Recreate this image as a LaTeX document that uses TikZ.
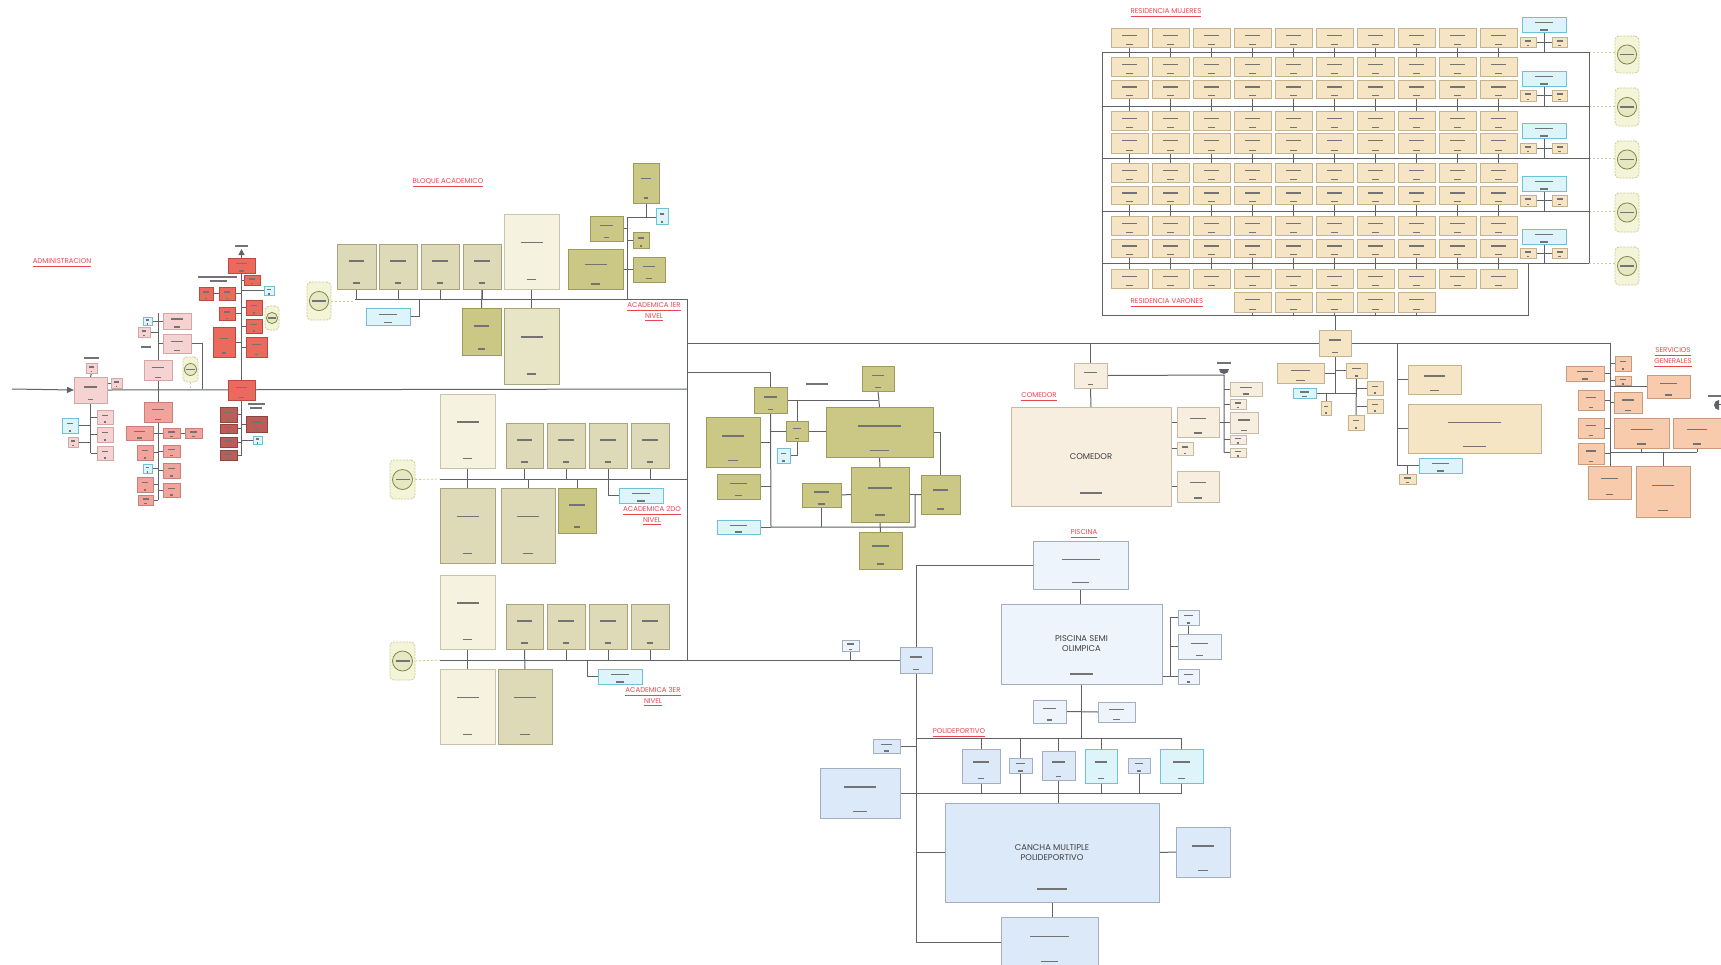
\documentclass[tikz,border=0pt]{standalone}
\usepackage{fontspec}
\setmainfont{Poppins}
\usetikzlibrary{calc,arrows.meta}
\pgfdeclarelayer{bg}
\pgfsetlayers{bg,main}
\definecolor{cAdm}{HTML}{F5D3D3}\definecolor{cAdmD}{HTML}{D6A6A6}
\definecolor{cSal}{HTML}{F2A39B}\definecolor{cSalD}{HTML}{C98078}
\definecolor{cRed}{HTML}{EA6A5E}\definecolor{cRedD}{HTML}{B84A40}
\definecolor{cDred}{HTML}{BC5E57}\definecolor{cDredD}{HTML}{8E4540}
\definecolor{cKha}{HTML}{DEDAB7}\definecolor{cKhaD}{HTML}{A9A47E}
\definecolor{cKhb}{HTML}{E8E5C6}
\definecolor{cCre}{HTML}{F5F3E0}\definecolor{cCreD}{HTML}{C9C5A8}
\definecolor{cOli}{HTML}{CBC784}\definecolor{cOliD}{HTML}{9E9A5E}
\definecolor{cCya}{HTML}{DDF5FA}\definecolor{cCyaD}{HTML}{6CC3D8}
\definecolor{cRes}{HTML}{F6E5C5}\definecolor{cResD}{HTML}{C6B28C}
\definecolor{cCom}{HTML}{F7EEDF}\definecolor{cComD}{HTML}{C8BBA5}
\definecolor{cPoolA}{HTML}{EEF4FC}\definecolor{cPoolB}{HTML}{DCE9F9}
\definecolor{cPoolD}{HTML}{A3AFBF}
\definecolor{cSer}{HTML}{F8CBAC}\definecolor{cSerD}{HTML}{C99A7C}
\definecolor{cTag}{HTML}{F3F4D8}\definecolor{cTagD}{HTML}{C9CD95}
\definecolor{cTagC}{HTML}{7E8A4A}
\definecolor{cLine}{HTML}{5F6368}
\definecolor{cLab}{HTML}{E8464F}
\tikzset{
 box/.style={inner sep=0pt,outer sep=0pt,line width=0.4pt},
 sAdm/.style={box,fill=cAdm,draw=cAdmD},
 sSal/.style={box,fill=cSal,draw=cSalD},
 sRed/.style={box,fill=cRed,draw=cRedD},
 sDred/.style={box,fill=cDred,draw=cDredD},
 sKha/.style={box,fill=cKha,draw=cKhaD},
 sKhb/.style={box,fill=cKhb,draw=cKhaD},
 sCre/.style={box,fill=cCre,draw=cCreD},
 sOli/.style={box,fill=cOli,draw=cOliD},
 sCya/.style={box,fill=cCya,draw=cCyaD},
 sRes/.style={box,fill=cRes,draw=cResD},
 sCom/.style={box,fill=cCom,draw=cComD},
 sPoolA/.style={box,fill=cPoolA,draw=cPoolD},
 sPoolB/.style={box,fill=cPoolB,draw=cPoolD},
 sSer/.style={box,fill=cSer,draw=cSerD},
 sTag/.style={box,fill=cTag,draw=cTagD,rounded corners=2pt,dash pattern=on 1pt off 0.6pt},
 tagc/.style={draw=cTagC,line width=0.4pt,fill=cTag!70!cTagD},
 ln/.style={draw=cLine,line width=0.5pt},
 dln/.style={draw=cTagD,line width=0.4pt,dash pattern=on 1.2pt off 0.8pt},
 bar/.style={draw=black!55,line width=0.7pt},
 lab/.style={text=cLab,font=\fontsize{3.5}{4.4}\selectfont,align=center,inner sep=0pt},
 big/.style={text=black!75,font=\fontsize{4.2}{5}\selectfont,align=center},
}
\newcommand\mybox[6]{%
 \node[#6,minimum width={((#4)-(#2))*0.5pt},minimum height={((#5)-(#3))*0.5pt}] (#1) at ({((#2)+(#4))/2},{((#3)+(#5))/2}) {};%
 \pgfmathsetmacro\mbcx{((#2)+(#4))/2}%
 \pgfmathsetmacro\mbcy{((#3)+(#5))/2-((#5)-(#3))*0.12}%
 \pgfmathsetmacro\mbw{((#4)-(#2))*0.2}%
 \pgfmathsetmacro\mbby{(#5)-((#5)-(#3))*0.13}%
 \pgfmathsetmacro\mbv{((#4)-(#2))*0.09}%
 \draw[bar] ({\mbcx-\mbw},{\mbcy}) -- ({\mbcx+\mbw},{\mbcy});%
 \draw[bar] ({\mbcx-\mbv},{\mbby}) -- ({\mbcx+\mbv},{\mbby});%
}
\newcommand\mytxtbox[7]{%
 \node[#6,big,inner sep=0pt,outer sep=0pt,minimum width={((#4)-(#2))*0.5pt},minimum height={((#5)-(#3))*0.5pt}] (#1) at ({((#2)+(#4))/2},{((#3)+(#5))/2}) {#7};%
 \pgfmathsetmacro\mbcx{((#2)+(#4))/2}%
 \pgfmathsetmacro\mbby{(#5)-((#5)-(#3))*0.13}%
 \pgfmathsetmacro\mbv{((#4)-(#2))*0.07}%
 \draw[bar,line width=1pt] ({\mbcx-\mbv},{\mbby}) -- ({\mbcx+\mbv},{\mbby});%
}
\newcommand\mytag[5]{%
 \node[sTag,minimum width={((#4)-(#2))*0.5pt},minimum height={((#5)-(#3))*0.5pt}] (#1) at ({((#2)+(#4))/2},{((#3)+(#5))/2}) {};%
 \pgfmathsetmacro\mtr{((#4)-(#2))*0.2}%
 \pgfmathsetmacro\mtb{\mtr*0.7}%
 \draw[tagc] (#1.center) circle[radius=\mtr pt];%
 \draw[bar,line width=0.6pt] ([xshift=-\mtb pt]#1.center) -- ([xshift=\mtb pt]#1.center);%
}
\begin{document}
\begin{tikzpicture}[x=0.5pt,y=-0.5pt]
\useasboundingbox (0,0) rectangle (1721,965);
\begin{pgfonlayer}{bg}
\fill[white] (0,0) rectangle (1721,965);
\end{pgfonlayer}

%% ---------------- labels
\node[lab] (lAdm) at (62,263) {\underline{ADMINISTRACION}};
\node[lab] (lBlo) at (448,183) {\underline{BLOQUE ACADEMICO}};
\node[lab] (lA1) at (654,312) {\underline{ACADEMICA 1ER}\\\underline{NIVEL}};
\node[lab] (lA2) at (652,516) {\underline{ACADEMICA 2DO}\\\underline{NIVEL}};
\node[lab] (lA3) at (653,697) {\underline{ACADEMICA 3ER}\\\underline{NIVEL}};
\node[lab] (lCom) at (1039,397) {\underline{COMEDOR}};
\node[lab] (lRM) at (1166,13) {\underline{RESIDENCIA MUJERES}};
\node[lab] (lRV) at (1167,303) {\underline{RESIDENCIA VARONES}};
\node[lab] (lSer) at (1673,358) {\underline{SERVICIOS}\\\underline{GENERALES}};
\node[lab] (lPis) at (1084,534) {\underline{PISCINA}};
\node[lab] (lPol) at (959,733) {\underline{POLIDEPORTIVO}};

%% ---------------- coordinates
\coordinate (mainW) at (12,389);
\coordinate (mainE) at (687,389);
\coordinate (vTop) at (687,299);
\coordinate (topL) at (687,343);
\coordinate (topR) at (1610,343);
\coordinate (b1W) at (355,299);
\coordinate (b1V) at (627,217);
\coordinate (b2W) at (440,479);
\coordinate (b2E) at (687,479);
\coordinate (b3W) at (440,660);
\coordinate (vBot) at (687,660);
\coordinate (jA) at (202,389);
\coordinate (jB1) at (419,299);
\coordinate (oL) at (687,372);
\coordinate (oBot) at (771,527);
\coordinate (oR) at (915,527);
\coordinate (ant) at (1224,375);
\coordinate (rvB) at (1102,315);
\coordinate (rvBE) at (1528,315);
\coordinate (svT) at (1397,343);
\coordinate (pTr) at (916,565);
\coordinate (pTrB) at (916,942);
\coordinate (polT) at (916,738);
\coordinate (polB) at (900,793);

%% ---------------- ADMINISTRACION
\mybox{a1}{74}{377}{107}{403}{sAdm}
\mybox{a1t}{86}{363}{97}{373}{sAdm}
\draw[bar] (84,358) -- (99,358);
\mybox{a1r}{111}{378}{122}{388}{sAdm}
\mybox{a1b1}{97}{410}{113}{424}{sAdm}
\mybox{a1b2}{97}{427}{113}{442}{sAdm}
\mybox{a1b3}{97}{446}{113}{460}{sAdm}
\mybox{a1c}{62}{418}{78}{433}{sCya}
\mybox{a1p}{68}{437}{78}{447}{sAdm}

\mybox{aA}{144}{360}{172}{380}{sAdm}
\mybox{aA1}{163}{313}{191}{329}{sAdm}
\mybox{aA2}{163}{334}{191}{353}{sAdm}
\mybox{aAc}{143}{317}{152}{325}{sCya}
\mybox{aAp}{138}{327}{150}{337}{sAdm}
\draw[bar] (141,347) -- (151,347);
\mytag{tA}{183}{357}{198}{382}
\mybox{aB}{144}{402}{172}{422}{sSal}
\mybox{aB1}{126}{426}{153}{440}{sSal}
\mybox{aB2}{163}{428}{180}{438}{sSal}
\mybox{aB3}{185}{428}{202}{438}{sSal}
\mybox{aB4}{137}{445}{153}{460}{sSal}
\mybox{aB5}{163}{445}{180}{457}{sSal}
\mybox{aBc}{143}{464}{152}{473}{sCya}
\mybox{aB6}{163}{463}{180}{478}{sSal}
\mybox{aB7}{137}{477}{153}{492}{sSal}
\mybox{aB8}{163}{483}{180}{497}{sSal}
\mybox{aB9}{138}{495}{153}{505}{sSal}

\mybox{aRt}{228}{258}{255}{273}{sRed}
\coordinate (aRup) at (241.5,249);
\draw[bar] (235,246) -- (248,246);
\draw[bar] (198,277) -- (237,277);
\draw[bar] (210,281) -- (227,281);
\mybox{aR1}{244}{275}{260}{285}{sRed}
\mybox{aRc}{264}{286}{274}{295}{sCya}
\mybox{aR2}{199}{287}{213}{300}{sRed}
\mybox{aR3}{219}{287}{235}{300}{sRed}
\mybox{aR4}{219}{307}{235}{320}{sRed}
\mybox{aR5}{246}{300}{262}{315}{sRed}
\mybox{aR6}{213}{327}{235}{357}{sRed}
\mybox{aR7}{246}{319}{262}{333}{sRed}
\mybox{aR8}{246}{337}{267}{357}{sRed}
\mytag{tR}{265}{306}{279}{330}
\mybox{aR}{228}{380}{255}{400}{sRed}
\mybox{aD1}{220}{407}{237}{422}{sDred}
\mybox{aD2}{220}{424}{237}{433}{sDred}
\mybox{aD3}{220}{437}{237}{447}{sDred}
\mybox{aD4}{220}{450}{237}{460}{sDred}
\draw[bar] (248,404) -- (265,404);
\draw[bar] (250,408) -- (262,408);
\mybox{aD5}{246}{416}{267}{432}{sDred}
\mybox{aDc}{253}{436}{262}{444}{sCya}

%% ---------------- BLOQUE ACADEMICO
\mytag{tB1}{307}{282}{331}{320}
\mybox{bK1}{337}{244}{376}{289}{sKha}
\mybox{bK2}{379}{244}{417}{289}{sKha}
\mybox{bK3}{421}{244}{459}{289}{sKha}
\mybox{bK4}{463}{244}{501}{289}{sKha}
\mybox{bC1}{504}{214}{559}{289}{sCre}
\mybox{bO1}{462}{308}{501}{355}{sOli}
\mybox{bC2}{504}{308}{559}{384}{sKhb}
\mybox{bCy}{366}{308}{410}{325}{sCya}
\mybox{bT}{633}{163}{659}{203}{sOli}
\mybox{bTc}{656}{208}{668}{224}{sCya}
\mybox{bL1}{590}{216}{623}{241}{sOli}
\mybox{bL2}{568}{249}{623}{289}{sOli}
\mybox{bR1}{633}{232}{649}{248}{sOli}
\mybox{bR2}{633}{257}{665}{282}{sOli}

%% 2do nivel
\mytag{tB2}{390}{460}{415}{499}
\mybox{c1}{440}{394}{495}{468}{sCre}
\mybox{c2}{506}{423}{543}{468}{sKha}
\mybox{c3}{547}{423}{585}{468}{sKha}
\mybox{c4}{589}{423}{627}{468}{sKha}
\mybox{c5}{631}{423}{669}{468}{sKha}
\mybox{c6}{440}{488}{495}{563}{sKha}
\mybox{c7}{501}{488}{555}{563}{sKha}
\mybox{c8}{558}{488}{596}{533}{sOli}
\mybox{cCy}{619}{488}{663}{503}{sCya}

%% 3er nivel
\mytag{tB3}{390}{642}{415}{680}
\mybox{d1}{440}{575}{495}{649}{sCre}
\mybox{d2}{506}{604}{543}{649}{sKha}
\mybox{d3}{547}{604}{585}{649}{sKha}
\mybox{d4}{589}{604}{627}{649}{sKha}
\mybox{d5}{631}{604}{669}{649}{sKha}
\mybox{d6}{440}{669}{495}{744}{sCre}
\mybox{d7}{498}{669}{552}{744}{sKha}
\mybox{dCy}{598}{669}{642}{684}{sCya}

%% ---------------- central olive
\mybox{o1}{754}{387}{787}{413}{sOli}
\draw[bar] (806,384) -- (828,384);
\mybox{o2}{862}{366}{894}{391}{sOli}
\mybox{o3}{706}{417}{760}{467}{sOli}
\mybox{o4}{786}{421}{808}{441}{sOli}
\mybox{oC}{777}{448}{790}{463}{sCya}
\mybox{o5}{826}{407}{933}{457}{sOli}
\mybox{o6}{717}{474}{760}{499}{sOli}
\mybox{o7}{802}{483}{841}{507}{sOli}
\mybox{o8}{851}{467}{909}{522}{sOli}
\mybox{o9}{921}{475}{960}{514}{sOli}
\mybox{o10}{859}{532}{902}{569}{sOli}
\mybox{oC2}{717}{520}{760}{534}{sCya}

%% ---------------- COMEDOR
\mybox{m0}{1074}{363}{1107}{388}{sCom}
\mytxtbox{m}{1011}{407}{1171}{506}{sCom}{COMEDOR}
\mybox{m1}{1230}{382}{1262}{396}{sCom}
\mybox{m2}{1230}{399}{1246}{409}{sCom}
\mybox{m3}{1230}{412}{1258}{433}{sCom}
\mybox{m4}{1230}{435}{1246}{444}{sCom}
\mybox{m5}{1230}{448}{1246}{457}{sCom}
\mybox{m6}{1177}{407}{1219}{437}{sCom}
\mybox{m7}{1177}{442}{1193}{455}{sCom}
\mybox{m8}{1177}{471}{1219}{502}{sCom}
\draw[bar] (1217,363) -- (1231,363);
\fill[cLine] (1219,369) arc[start angle=180,end angle=360,radius=2.5pt] -- cycle;

%% ---------------- RESIDENCIAS
\foreach \rw/\ya/\yb in {1/28/47,2/57/76,3/80/98,4/111/130,5/133/153,6/163/182,7/186/204,8/216/235,9/239/257,10/269/288}{
 \foreach \cl in {0,...,9}{
  \pgfmathsetmacro\xa{1111+41*\cl}\pgfmathsetmacro\xb{\xa+37}
  \mybox{res\rw c\cl}{\xa}{\ya}{\xb}{\yb}{sRes}
 }}
\foreach \cl in {3,...,7}{
  \pgfmathsetmacro\xa{1111+41*\cl}\pgfmathsetmacro\xb{\xa+37}
  \mybox{resx\cl}{\xa}{292}{\xb}{312}{sRes}
 }
\foreach \k/\ca/\cb/\sa/\sb in {1/17/32/37/47,2/71/86/90/101,3/123/138/143/153,4/176/191/195/206,5/229/244/248/258}{
 \mybox{rcy\k}{1522}{\ca}{1566}{\cb}{sCya}
 \mybox{rsl\k}{1520}{\sa}{1536}{\sb}{sRes}
 \mybox{rsr\k}{1552}{\sa}{1567}{\sb}{sRes}
}
\foreach \k/\ta/\tb in {1/36/73,2/88/126,3/141/178,4/193/232,5/247/285}{
 \mytag{tagR\k}{1615}{\ta}{1639}{\tb}
}
\mybox{rJ}{1319}{330}{1351}{356}{sRes}
\mybox{rj1}{1277}{363}{1324}{383}{sRes}
\mybox{rj2}{1346}{363}{1367}{378}{sRes}
\mybox{rjC}{1293}{388}{1316}{398}{sCya}
\mybox{rj3}{1321}{401}{1331}{415}{sRes}
\mybox{rj4}{1367}{381}{1383}{395}{sRes}
\mybox{rj5}{1367}{399}{1383}{413}{sRes}
\mybox{rj6}{1348}{415}{1364}{430}{sRes}

%% right cream boxes
\mybox{sv1}{1408}{365}{1461}{394}{sRes}
\mybox{sv2}{1408}{404}{1541}{453}{sRes}
\mybox{svC}{1419}{458}{1462}{473}{sCya}
\mybox{sv3}{1399}{474}{1416}{484}{sRes}

%% SERVICIOS GENERALES
\mybox{g1}{1566}{366}{1604}{381}{sSer}
\mybox{g2}{1615}{356}{1631}{371}{sSer}
\mybox{g3}{1615}{376}{1631}{385}{sSer}
\mybox{g4}{1647}{375}{1690}{398}{sSer}
\mybox{g5}{1578}{390}{1604}{410}{sSer}
\mybox{g6}{1614}{392}{1642}{413}{sSer}
\mybox{g7}{1578}{418}{1604}{438}{sSer}
\mybox{g8}{1614}{418}{1669}{448}{sSer}
\mybox{g9}{1673}{418}{1721}{448}{sSer}
\mybox{g10}{1578}{443}{1604}{464}{sSer}
\mybox{g11}{1588}{466}{1631}{499}{sSer}
\mybox{g12}{1636}{466}{1690}{517}{sSer}
\coordinate (farR) at (1721,404);
\draw[bar] (1708,396) -- (1721,396);
\fill[cLine] (1719,400) arc[start angle=90,end angle=270,radius=2.5pt] -- cycle;

%% ---------------- PISCINA / POLIDEPORTIVO
\mybox{p1}{1033}{541}{1128}{589}{sPoolA}
\mybox{pJ}{900}{647}{932}{673}{sPoolB}
\mybox{pS}{842}{640}{859}{651}{sPoolA}
\mytxtbox{p2}{1001}{604}{1162}{684}{sPoolA}{PISCINA SEMI\\OLIMPICA}
\mybox{p3}{1178}{610}{1199}{625}{sPoolA}
\mybox{p4}{1178}{634}{1221}{659}{sPoolA}
\mybox{p5}{1178}{669}{1199}{684}{sPoolA}
\mybox{p6}{1033}{700}{1066}{723}{sPoolA}
\mybox{p7}{1098}{702}{1135}{722}{sPoolA}
\mybox{q0}{873}{739}{900}{753}{sPoolB}
\mybox{q1}{962}{749}{1000}{783}{sPoolB}
\mybox{q2}{1009}{758}{1032}{773}{sPoolB}
\mybox{q3}{1042}{751}{1075}{780}{sPoolB}
\mybox{q4}{1085}{749}{1117}{783}{sCya}
\mybox{q5}{1128}{758}{1150}{773}{sPoolB}
\mybox{q6}{1160}{749}{1203}{783}{sCya}
\mybox{qL}{820}{768}{900}{818}{sPoolB}
\mytxtbox{qC}{945}{803}{1159}{902}{sPoolB}{CANCHA MULTIPLE\\POLIDEPORTIVO}
\mybox{qR}{1176}{827}{1230}{877}{sPoolB}
\mybox{qB}{1001}{917}{1098}{968}{sPoolB}

%% ================= CONNECTORS
\begin{pgfonlayer}{bg}
% admin
\draw[ln,-{Triangle[length=3.5pt,width=3pt]}] (mainW) -- (a1.west);
\draw[ln] (a1.east) -- (mainE);
\draw[ln] (a1t.south) -- (a1.north);
\draw[ln] (a1r.west) -- (a1r.west -| a1.east);
\draw[ln] (a1.south) -- (a1.south |- a1b3.west);
\foreach \n in {a1b1,a1b2,a1b3}{\draw[ln] (\n.west) -- (\n.west -| a1.south);}
\draw[ln] (a1c.east) -- (a1c.east -| a1.south);
\draw[ln] (a1p.east) -- (a1p.east -| a1.south);
\draw[ln] (aA.north) -- (aA.north |- aA1.north);
\foreach \n in {aA1,aA2}{\draw[ln] (\n.west) -- (\n.west -| aA.north);}
\foreach \n in {aAc,aAp}{\draw[ln] (\n.east) -- (\n.east -| aA.north);}
\draw[ln] (aA2.east) -| (jA);
\draw[dln] (tA.south) -- (tA.south |- jA);
\draw[ln] (aA.south) -- (aB.north);
\draw[ln] (aB.south) -- (aB.south |- aB9.east);
\foreach \n in {aB1,aB4,aBc,aB7,aB9}{\draw[ln] (\n.east) -- (\n.east -| aB.south);}
\foreach \n in {aB2,aB5,aB6,aB8}{\draw[ln] (\n.west) -- (\n.west -| aB.south);}
\draw[ln] (aB2.east) -- (aB3.west);
\draw[ln,-{Triangle[length=3pt,width=3pt]}] (aRt.north) -- (aRup);
\draw[ln] (aRt.south) -- (aR.north);
\draw[ln] (aR1.west) -- (aR1.west -| aR.north);
\draw[ln] (aRc.west) -- (aRc.west -| aR.north);
\draw[ln] (aR2.east) -- (aR3.west);
\foreach \n in {aR3,aR4,aR6}{\draw[ln] (\n.east) -- (\n.east -| aR.north);}
\foreach \n in {aR5,aR7,aR8}{\draw[ln] (\n.west) -- (\n.west -| aR.north);}
\draw[ln] (aR.south) -- (aR.south |- aD4.east);
\foreach \n in {aD1,aD2,aD3,aD4}{\draw[ln] (\n.east) -- (\n.east -| aR.south);}
\foreach \n in {aD5,aDc}{\draw[ln] (\n.west) -- (\n.west -| aR.south);}
% academic 1
\draw[dln] (tB1.east) -- (tB1.east -| b1W);
\draw[ln] (b1W) -- (vTop) -- (vBot);
\foreach \n in {bK1,bK2,bK3,bK4}{\draw[ln] (\n.south) -- (\n.south |- b1W);}
\draw[ln] (bK4.south) -- (bO1.north);
\draw[ln] (bC1.south) -- (bC2.north);
\draw[ln] (bCy.east) -| (jB1);
\draw[ln] (b1W -| b1V) -- (b1V) -- (b1V -| bTc.west);
\draw[ln] (bT.south) -- (bT.south |- b1V);
\foreach \n in {bL1,bL2}{\draw[ln] (\n.east) -- (\n.east -| b1V);}
\foreach \n in {bR1,bR2}{\draw[ln] (\n.west) -- (\n.west -| b1V);}
% academic 2
\draw[dln] (tB2.east) -- (b2W);
\draw[ln] (b2W) -- (b2E);
\draw[ln] (c1.south) -- (c6.north);
\foreach \n in {c2,c3,c5}{\draw[ln] (\n.south) -- (\n.south |- b2W);}
\draw[ln] (c7.north) -- (c7.north |- b2W);
\draw[ln] (c8.north) -- (c8.north |- b2W);
\draw[ln] (c4.south) |- (cCy.west);
% academic 3
\draw[dln] (tB3.east) -- (b3W);
\draw[ln] (b3W) -- (pJ.west);
\draw[ln] (d1.south) -- (d6.north);
\draw[ln] (d2.south) -- (d7.north);
\foreach \n in {d3,d4,d5}{\draw[ln] (\n.south) -- (\n.south |- b3W);}
\draw[ln] (587,660) |- (dCy.west);
% top line
\draw[ln] (topL) -- (topR);
% central olive
\draw[ln] (oL) -| (o1.north);
\draw[ln] (o1.south) -- (oBot) -- (oR) |- (o9.west);
\draw[ln] (o3.east) -- (o3.east -| o1.south);
\draw[ln] (o6.east) -- (o6.east -| o1.south);
\draw[ln] (oC2.east) -- (oC2.east -| oBot);
\draw[ln] (o4.west) -- (o4.west -| o1.south);
\draw[ln] (o4.east) -- (o4.east -| o5.west);
\draw[ln] (o1.east) -- (o1.east -| o2.south);
\draw[ln] (o2.south) -- (o5.north);
\draw[ln] (797,400) |- (oC.east);
\draw[ln] (o5.south) -- (o8.north);
\draw[ln] (o8.south) -- (o10.north);
\draw[ln] (o7.south) -- (o7.south |- oBot);
\draw[ln] (o7.east) -- (o8.west);
\draw[ln] (o8.east) -- (o9.west);
\draw[ln] (o5.east) -| (o9.north);
% comedor
\draw[ln] (m0.north |- topL) -- (m0.north);
\draw[ln] (m0.south) -- (m.north);
\draw[ln] (m0.east) -- (ant) -- (ant |- m5.west);
\foreach \n in {m1,m2,m3,m4,m5}{\draw[ln] (\n.west) -- (\n.west -| ant);}
\draw[ln] (m6.east) -- (m6.east -| ant);
\foreach \n in {m6,m7,m8}{\draw[ln] (\n.west) -- (\n.west -| m.east);}
% residencias
\foreach \k/\yy in {1/52,2/106,3/158,4/211,5/263}{
  \draw[ln] (1102,\yy) -- (1589,\yy);
  \draw[ln] (rcy\k.south) -- (rcy\k.south |- 1102,\yy);
  \draw[ln] (rsl\k.east) -- (rsr\k.west);
  \draw[dln] (1589,\yy) -- (tagR\k.west |- 1589,\yy);
}
\draw[ln] (1589,52) -- (1589,263);
\draw[ln] (1102,52) -- (rvB) -- (rvBE) -- (1528,263);
\foreach \cl in {0,...,9}{
 \foreach \a/\b in {1/2,3/4,5/6,7/8,9/10}{\draw[ln] (res\a c\cl.south) -- (res\b c\cl.north);}
}
\foreach \cl in {3,...,7}{\draw[ln] (resx\cl.south) -- (resx\cl.south |- rvB);}
\draw[ln] (rJ.north) -- (rJ.north |- rvB);
\draw[ln] (rJ.south) -- (rJ.south |- rjC.east);
\draw[ln] (rj1.east) -- (rj1.east -| rJ.south);
\draw[ln] (rj2.west) -- (rj2.west -| rJ.south);
\draw[ln] (rjC.east) -- (rjC.east -| rj2.south);
\draw[ln] (rj3.north) -- (rj3.north |- rjC.east);
\draw[ln] (rj2.south) -- (rj6.north);
\foreach \n in {rj4,rj5}{\draw[ln] (\n.west) -- (\n.west -| rj2.south);}
% right cream
\draw[ln] (svT) -- (svT |- svC.west);
\foreach \n in {sv1,sv2,svC}{\draw[ln] (\n.west) -- (\n.west -| svT);}
\draw[ln] (sv3.north) -- (sv3.north |- svC.west);
% servicios
\draw[ln] (topR) -- (g11.north -| topR);
\foreach \n in {g1,g5,g7,g10}{\draw[ln] (\n.east) -- (\n.east -| topR);}
\foreach \n in {g2,g3,g6}{\draw[ln] (\n.west) -- (\n.west -| topR);}
\draw[ln] (g4.west) -- (g4.west -| topR);
\draw[ln] (topR |- 0,452) -- (g9.south |- 0,452);
\draw[ln] (g8.south) -- (g8.south |- 0,452);
\draw[ln] (g9.south) -- (g9.south |- 0,452);
\draw[ln] (g12.north) -- (g12.north |- 0,452);
\draw[ln] (farR) -- ++(-6,0);
% pool
\draw[ln] (pTr) -- (pTrB) -- (pTrB -| qB.west);
\draw[ln] (p1.west) -- (pTr);
\draw[ln] (pS.south) -- (pS.south |- b3W);
\draw[ln] (p1.south) -- (p1.south |- p2.north);
\draw[ln] (p3.west) -- ++(-8,0) |- (p5.west);
\draw[ln] (p4.west) -- ++(-8,0);
\draw[ln] (p5.west) -- (p5.west -| p2.east);
\draw[ln] (p3.south) -- (p3.south |- p4.north);
\draw[ln] (p2.south) -- (p2.south |- polT);
\draw[ln] (p6.east) -- (p7.west);
\draw[ln] (polT) -- (q6.north |- polT);
\draw[ln] (polB) -- (q6.south |- polB);
\foreach \n in {q1,q3,q4,q6}{\draw[ln] (\n.north) -- (\n.north |- polT); \draw[ln] (\n.south) -- (\n.south |- polB);}
\draw[ln] (q2.center |- polT) -- (q2.center |- polB);
\draw[ln] (q5.south) -- (q5.south |- polB);
\draw[ln] (q3.south |- polB) -- (q3.south |- qC.north);
\draw[ln] (q0.east) -- (q0.east -| pTr);
\draw[ln] (qC.west) -- (qC.west -| pTr);
\draw[ln] (qC.east) -- (qR.west);
\draw[ln] (qC.south) -- (qC.south |- qB.north);
\end{pgfonlayer}
\end{tikzpicture}
\end{document}
